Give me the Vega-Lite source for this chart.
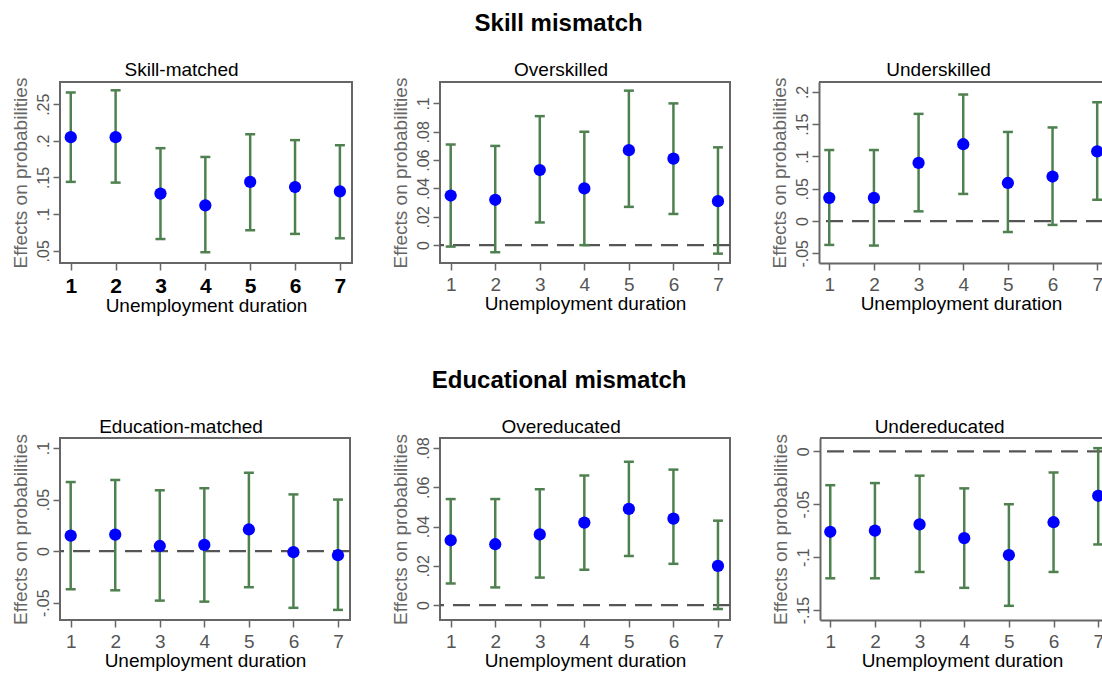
{
  "$schema": "https://vega.github.io/schema/vega-lite/v6.json",
  "padding": {"left": 10, "right": 0, "top": 12, "bottom": 0},
  "config": {
    "font": "Liberation Sans",
    "view": {"stroke": "#666", "strokeWidth": 2},
    "title": {"fontSize": 19, "fontWeight": "normal", "color": "#000", "anchor": "middle", "frame": "bounds", "offset": -3},
    "axis": {"grid": false, "domain": false, "tickColor": "#666", "tickWidth": 1.5, "tickSize": 7},
    "axisX": {"labelAngle": 0, "labelPadding": 5, "labelFontSize": 19, "labelColor": "#555", "titleFontSize": 19, "titleFontWeight": "normal", "titleColor": "#000", "titlePadding": 0},
    "axisY": {"labelAngle": -90, "labelAlign": "center", "labelBaseline": "bottom", "labelPadding": 2, "labelFontSize": 16, "labelColor": "#555", "titleFontSize": 19, "titleFontWeight": "normal", "titleColor": "#666", "titlePadding": 5}
  },
  "spacing": 52,
  "vconcat": [
    {
      "title": {"text": "Skill mismatch", "fontSize": 24, "fontWeight": "bold", "offset": 24, "anchor": "middle", "frame": "bounds"},
      "spacing": 37,
      "hconcat": [
        {
          "width": 292, "height": 181,
          "title": "Skill-matched",
          "data": {"values": [
            {"dur": 1, "est": 0.205, "lo": 0.144, "hi": 0.266},
            {"dur": 2, "est": 0.205, "lo": 0.143, "hi": 0.269},
            {"dur": 3, "est": 0.128, "lo": 0.066, "hi": 0.190},
            {"dur": 4, "est": 0.112, "lo": 0.048, "hi": 0.178},
            {"dur": 5, "est": 0.144, "lo": 0.078, "hi": 0.209},
            {"dur": 6, "est": 0.137, "lo": 0.073, "hi": 0.201},
            {"dur": 7, "est": 0.131, "lo": 0.067, "hi": 0.194}
          ]},
          "encoding": {
            "y": {"field": "est", "type": "quantitative", "title": "Effects on probabilities", "scale": {"domain": [0.0333, 0.2803], "nice": false, "zero": false}, "axis": {"values": [0.05, 0.1, 0.15, 0.2, 0.25], "labelExpr": "(datum.value < 0 ? '-' : '') + replace(format(abs(datum.value), '~g'), '0.', '.')"}}
          },
          "layer": [
            {"mark": {"type": "rule", "strokeWidth": 2.5, "color": "#4f804f"},
             "encoding": {"x": {"field": "dur", "type": "quantitative", "title": "Unemployment duration", "scale": {"domain": [0.76, 7.27], "nice": false, "zero": false}},
                          "y": {"field": "lo", "type": "quantitative", "title": "Effects on probabilities"}, "y2": {"field": "hi"}}},
            {"mark": {"type": "point", "shape": "M-1,0L1,0", "filled": false, "size": 100, "strokeWidth": 2.5, "color": "#4f804f", "opacity": 1},
             "encoding": {"x": {"field": "dur", "type": "quantitative", "title": "Unemployment duration", "scale": {"domain": [0.76, 7.27], "nice": false, "zero": false}},
                          "y": {"field": "lo", "type": "quantitative", "title": "Effects on probabilities"}}},
            {"mark": {"type": "point", "shape": "M-1,0L1,0", "filled": false, "size": 100, "strokeWidth": 2.5, "color": "#4f804f", "opacity": 1},
             "encoding": {"x": {"field": "dur", "type": "quantitative", "title": "Unemployment duration", "scale": {"domain": [0.76, 7.27], "nice": false, "zero": false}},
                          "y": {"field": "hi", "type": "quantitative", "title": "Effects on probabilities"}}},
            {"mark": {"type": "circle", "size": 150, "color": "#0000ff", "opacity": 1},
             "encoding": {"x": {"field": "dur", "type": "quantitative", "title": "Unemployment duration", "scale": {"domain": [0.76, 7.27], "nice": false, "zero": false}, "axis": {"values": [1,2,3,4,5,6,7], "format": "d", "labelFontWeight": "bold", "labelColor": "#000", "labelFontSize": 21}}}}
          ]
        },
        {
          "width": 290, "height": 181,
          "title": "Overskilled",
          "data": {"values": [
            {"dur": 1, "est": 0.035, "lo": -0.001, "hi": 0.071},
            {"dur": 2, "est": 0.032, "lo": -0.005, "hi": 0.070},
            {"dur": 3, "est": 0.053, "lo": 0.016, "hi": 0.091},
            {"dur": 4, "est": 0.040, "lo": 0.000, "hi": 0.080},
            {"dur": 5, "est": 0.067, "lo": 0.027, "hi": 0.109},
            {"dur": 6, "est": 0.061, "lo": 0.022, "hi": 0.100},
            {"dur": 7, "est": 0.031, "lo": -0.006, "hi": 0.069}
          ]},
          "encoding": {
            "y": {"field": "est", "type": "quantitative", "title": "Effects on probabilities", "scale": {"domain": [-0.0126, 0.1151], "nice": false, "zero": false}, "axis": {"values": [0, 0.02, 0.04, 0.06, 0.08, 0.1], "labelExpr": "(datum.value < 0 ? '-' : '') + replace(format(abs(datum.value), '~g'), '0.', '.')"}}
          },
          "layer": [
            {"transform": [{"filter": "datum.dur == 1"}], "mark": {"type": "rule", "strokeDash": [17, 9], "strokeWidth": 2.2, "color": "#555"},
             "encoding": {"y": {"datum": 0, "type": "quantitative", "title": "Effects on probabilities"}}},
            {"mark": {"type": "rule", "strokeWidth": 2.5, "color": "#4f804f"},
             "encoding": {"x": {"field": "dur", "type": "quantitative", "title": "Unemployment duration", "scale": {"domain": [0.76, 7.27], "nice": false, "zero": false}},
                          "y": {"field": "lo", "type": "quantitative", "title": "Effects on probabilities"}, "y2": {"field": "hi"}}},
            {"mark": {"type": "point", "shape": "M-1,0L1,0", "filled": false, "size": 100, "strokeWidth": 2.5, "color": "#4f804f", "opacity": 1},
             "encoding": {"x": {"field": "dur", "type": "quantitative", "title": "Unemployment duration", "scale": {"domain": [0.76, 7.27], "nice": false, "zero": false}},
                          "y": {"field": "lo", "type": "quantitative", "title": "Effects on probabilities"}}},
            {"mark": {"type": "point", "shape": "M-1,0L1,0", "filled": false, "size": 100, "strokeWidth": 2.5, "color": "#4f804f", "opacity": 1},
             "encoding": {"x": {"field": "dur", "type": "quantitative", "title": "Unemployment duration", "scale": {"domain": [0.76, 7.27], "nice": false, "zero": false}},
                          "y": {"field": "hi", "type": "quantitative", "title": "Effects on probabilities"}}},
            {"mark": {"type": "circle", "size": 150, "color": "#0000ff", "opacity": 1},
             "encoding": {"x": {"field": "dur", "type": "quantitative", "title": "Unemployment duration", "scale": {"domain": [0.76, 7.27], "nice": false, "zero": false}, "axis": {"values": [1,2,3,4,5,6,7], "format": "d"}}}}
          ]
        },
        {
          "width": 284, "height": 181,
          "title": "Underskilled",
          "view": {"stroke": null},
          "data": {"values": [
            {"dur": 1, "est": 0.036, "lo": -0.037, "hi": 0.110},
            {"dur": 2, "est": 0.036, "lo": -0.038, "hi": 0.110},
            {"dur": 3, "est": 0.090, "lo": 0.015, "hi": 0.166},
            {"dur": 4, "est": 0.119, "lo": 0.042, "hi": 0.196},
            {"dur": 5, "est": 0.059, "lo": -0.017, "hi": 0.138},
            {"dur": 6, "est": 0.069, "lo": -0.006, "hi": 0.145},
            {"dur": 7, "est": 0.108, "lo": 0.033, "hi": 0.184}
          ]},
          "encoding": {
            "y": {"field": "est", "type": "quantitative", "title": "Effects on probabilities", "scale": {"domain": [-0.065, 0.2154], "nice": false, "zero": false}, "axis": {"values": [-0.05, 0, 0.05, 0.1, 0.15, 0.2], "domain": true, "domainColor": "#666", "domainWidth": 2, "labelExpr": "(datum.value < 0 ? '-' : '') + replace(format(abs(datum.value), '~g'), '0.', '.')"}}
          },
          "layer": [
            {"transform": [{"filter": "datum.dur == 1"}], "mark": {"type": "rule", "strokeWidth": 2, "color": "#666"},
             "encoding": {"y": {"datum": 0.2154, "type": "quantitative", "title": "Effects on probabilities"}}},
            {"transform": [{"filter": "datum.dur == 1"}], "mark": {"type": "rule", "strokeDash": [17, 9], "strokeWidth": 2.2, "color": "#555"},
             "encoding": {"y": {"datum": 0, "type": "quantitative", "title": "Effects on probabilities"}}},
            {"mark": {"type": "rule", "strokeWidth": 2.5, "color": "#4f804f"},
             "encoding": {"x": {"field": "dur", "type": "quantitative", "title": "Unemployment duration", "scale": {"domain": [0.77, 7.13], "nice": false, "zero": false}},
                          "y": {"field": "lo", "type": "quantitative", "title": "Effects on probabilities"}, "y2": {"field": "hi"}}},
            {"mark": {"type": "point", "shape": "M-1,0L1,0", "filled": false, "size": 100, "strokeWidth": 2.5, "color": "#4f804f", "opacity": 1},
             "encoding": {"x": {"field": "dur", "type": "quantitative", "title": "Unemployment duration", "scale": {"domain": [0.77, 7.13], "nice": false, "zero": false}},
                          "y": {"field": "lo", "type": "quantitative", "title": "Effects on probabilities"}}},
            {"mark": {"type": "point", "shape": "M-1,0L1,0", "filled": false, "size": 100, "strokeWidth": 2.5, "color": "#4f804f", "opacity": 1},
             "encoding": {"x": {"field": "dur", "type": "quantitative", "title": "Unemployment duration", "scale": {"domain": [0.77, 7.13], "nice": false, "zero": false}},
                          "y": {"field": "hi", "type": "quantitative", "title": "Effects on probabilities"}}},
            {"mark": {"type": "circle", "size": 150, "color": "#0000ff", "opacity": 1, "clip": true},
             "encoding": {"x": {"field": "dur", "type": "quantitative", "title": "Unemployment duration", "scale": {"domain": [0.77, 7.13], "nice": false, "zero": false}, "axis": {"values": [1,2,3,4,5,6,7], "format": "d", "domain": true, "domainColor": "#666", "domainWidth": 2}}}}
          ]
        }
      ]
    },
    {
      "title": {"text": "Educational mismatch", "fontSize": 24, "fontWeight": "bold", "offset": 24, "anchor": "middle", "frame": "bounds"},
      "spacing": 37,
      "hconcat": [
        {
          "width": 290, "height": 182,
          "title": "Education-matched",
          "data": {"values": [
            {"dur": 1, "est": 0.015, "lo": -0.037, "hi": 0.067},
            {"dur": 2, "est": 0.016, "lo": -0.038, "hi": 0.069},
            {"dur": 3, "est": 0.005, "lo": -0.048, "hi": 0.059},
            {"dur": 4, "est": 0.006, "lo": -0.049, "hi": 0.061},
            {"dur": 5, "est": 0.021, "lo": -0.035, "hi": 0.076},
            {"dur": 6, "est": -0.001, "lo": -0.055, "hi": 0.055},
            {"dur": 7, "est": -0.004, "lo": -0.057, "hi": 0.050}
          ]},
          "encoding": {
            "y": {"field": "est", "type": "quantitative", "title": "Effects on probabilities", "scale": {"domain": [-0.0668, 0.1097], "nice": false, "zero": false}, "axis": {"values": [-0.05, 0, 0.05, 0.1], "labelExpr": "(datum.value < 0 ? '-' : '') + replace(format(abs(datum.value), '~g'), '0.', '.')"}}
          },
          "layer": [
            {"transform": [{"filter": "datum.dur == 1"}], "mark": {"type": "rule", "strokeDash": [17, 9], "strokeWidth": 2.2, "color": "#555"},
             "encoding": {"y": {"datum": 0, "type": "quantitative", "title": "Effects on probabilities"}}},
            {"mark": {"type": "rule", "strokeWidth": 2.5, "color": "#4f804f"},
             "encoding": {"x": {"field": "dur", "type": "quantitative", "title": "Unemployment duration", "scale": {"domain": [0.76, 7.27], "nice": false, "zero": false}},
                          "y": {"field": "lo", "type": "quantitative", "title": "Effects on probabilities"}, "y2": {"field": "hi"}}},
            {"mark": {"type": "point", "shape": "M-1,0L1,0", "filled": false, "size": 100, "strokeWidth": 2.5, "color": "#4f804f", "opacity": 1},
             "encoding": {"x": {"field": "dur", "type": "quantitative", "title": "Unemployment duration", "scale": {"domain": [0.76, 7.27], "nice": false, "zero": false}},
                          "y": {"field": "lo", "type": "quantitative", "title": "Effects on probabilities"}}},
            {"mark": {"type": "point", "shape": "M-1,0L1,0", "filled": false, "size": 100, "strokeWidth": 2.5, "color": "#4f804f", "opacity": 1},
             "encoding": {"x": {"field": "dur", "type": "quantitative", "title": "Unemployment duration", "scale": {"domain": [0.76, 7.27], "nice": false, "zero": false}},
                          "y": {"field": "hi", "type": "quantitative", "title": "Effects on probabilities"}}},
            {"mark": {"type": "circle", "size": 150, "color": "#0000ff", "opacity": 1},
             "encoding": {"x": {"field": "dur", "type": "quantitative", "title": "Unemployment duration", "scale": {"domain": [0.76, 7.27], "nice": false, "zero": false}, "axis": {"values": [1,2,3,4,5,6,7], "format": "d"}}}}
          ]
        },
        {
          "width": 290, "height": 182,
          "title": "Overeducated",
          "data": {"values": [
            {"dur": 1, "est": 0.033, "lo": 0.011, "hi": 0.054},
            {"dur": 2, "est": 0.031, "lo": 0.009, "hi": 0.054},
            {"dur": 3, "est": 0.036, "lo": 0.014, "hi": 0.059},
            {"dur": 4, "est": 0.042, "lo": 0.018, "hi": 0.066},
            {"dur": 5, "est": 0.049, "lo": 0.025, "hi": 0.073},
            {"dur": 6, "est": 0.044, "lo": 0.021, "hi": 0.069},
            {"dur": 7, "est": 0.020, "lo": -0.002, "hi": 0.043}
          ]},
          "encoding": {
            "y": {"field": "est", "type": "quantitative", "title": "Effects on probabilities", "scale": {"domain": [-0.0076, 0.0851], "nice": false, "zero": false}, "axis": {"values": [0, 0.02, 0.04, 0.06, 0.08], "labelExpr": "(datum.value < 0 ? '-' : '') + replace(format(abs(datum.value), '~g'), '0.', '.')"}}
          },
          "layer": [
            {"transform": [{"filter": "datum.dur == 1"}], "mark": {"type": "rule", "strokeDash": [17, 9], "strokeWidth": 2.2, "color": "#555"},
             "encoding": {"y": {"datum": 0, "type": "quantitative", "title": "Effects on probabilities"}}},
            {"mark": {"type": "rule", "strokeWidth": 2.5, "color": "#4f804f"},
             "encoding": {"x": {"field": "dur", "type": "quantitative", "title": "Unemployment duration", "scale": {"domain": [0.76, 7.27], "nice": false, "zero": false}},
                          "y": {"field": "lo", "type": "quantitative", "title": "Effects on probabilities"}, "y2": {"field": "hi"}}},
            {"mark": {"type": "point", "shape": "M-1,0L1,0", "filled": false, "size": 100, "strokeWidth": 2.5, "color": "#4f804f", "opacity": 1},
             "encoding": {"x": {"field": "dur", "type": "quantitative", "title": "Unemployment duration", "scale": {"domain": [0.76, 7.27], "nice": false, "zero": false}},
                          "y": {"field": "lo", "type": "quantitative", "title": "Effects on probabilities"}}},
            {"mark": {"type": "point", "shape": "M-1,0L1,0", "filled": false, "size": 100, "strokeWidth": 2.5, "color": "#4f804f", "opacity": 1},
             "encoding": {"x": {"field": "dur", "type": "quantitative", "title": "Unemployment duration", "scale": {"domain": [0.76, 7.27], "nice": false, "zero": false}},
                          "y": {"field": "hi", "type": "quantitative", "title": "Effects on probabilities"}}},
            {"mark": {"type": "circle", "size": 150, "color": "#0000ff", "opacity": 1},
             "encoding": {"x": {"field": "dur", "type": "quantitative", "title": "Unemployment duration", "scale": {"domain": [0.76, 7.27], "nice": false, "zero": false}, "axis": {"values": [1,2,3,4,5,6,7], "format": "d"}}}}
          ]
        },
        {
          "width": 284, "height": 182,
          "title": "Undereducated",
          "view": {"stroke": null},
          "data": {"values": [
            {"dur": 1, "est": -0.076, "lo": -0.120, "hi": -0.032},
            {"dur": 2, "est": -0.075, "lo": -0.120, "hi": -0.030},
            {"dur": 3, "est": -0.069, "lo": -0.114, "hi": -0.023},
            {"dur": 4, "est": -0.082, "lo": -0.129, "hi": -0.035},
            {"dur": 5, "est": -0.098, "lo": -0.146, "hi": -0.050},
            {"dur": 6, "est": -0.067, "lo": -0.114, "hi": -0.020},
            {"dur": 7, "est": -0.042, "lo": -0.088, "hi": 0.003}
          ]},
          "encoding": {
            "y": {"field": "est", "type": "quantitative", "title": "Effects on probabilities", "scale": {"domain": [-0.1594, 0.0126], "nice": false, "zero": false}, "axis": {"values": [-0.15, -0.1, -0.05, 0], "domain": true, "domainColor": "#666", "domainWidth": 2, "labelExpr": "(datum.value < 0 ? '-' : '') + replace(format(abs(datum.value), '~g'), '0.', '.')"}}
          },
          "layer": [
            {"transform": [{"filter": "datum.dur == 1"}], "mark": {"type": "rule", "strokeWidth": 2, "color": "#666"},
             "encoding": {"y": {"datum": 0.0126, "type": "quantitative", "title": "Effects on probabilities"}}},
            {"transform": [{"filter": "datum.dur == 1"}], "mark": {"type": "rule", "strokeDash": [17, 9], "strokeWidth": 2.2, "color": "#555"},
             "encoding": {"y": {"datum": 0, "type": "quantitative", "title": "Effects on probabilities"}}},
            {"mark": {"type": "rule", "strokeWidth": 2.5, "color": "#4f804f"},
             "encoding": {"x": {"field": "dur", "type": "quantitative", "title": "Unemployment duration", "scale": {"domain": [0.77, 7.13], "nice": false, "zero": false}},
                          "y": {"field": "lo", "type": "quantitative", "title": "Effects on probabilities"}, "y2": {"field": "hi"}}},
            {"mark": {"type": "point", "shape": "M-1,0L1,0", "filled": false, "size": 100, "strokeWidth": 2.5, "color": "#4f804f", "opacity": 1},
             "encoding": {"x": {"field": "dur", "type": "quantitative", "title": "Unemployment duration", "scale": {"domain": [0.77, 7.13], "nice": false, "zero": false}},
                          "y": {"field": "lo", "type": "quantitative", "title": "Effects on probabilities"}}},
            {"mark": {"type": "point", "shape": "M-1,0L1,0", "filled": false, "size": 100, "strokeWidth": 2.5, "color": "#4f804f", "opacity": 1},
             "encoding": {"x": {"field": "dur", "type": "quantitative", "title": "Unemployment duration", "scale": {"domain": [0.77, 7.13], "nice": false, "zero": false}},
                          "y": {"field": "hi", "type": "quantitative", "title": "Effects on probabilities"}}},
            {"mark": {"type": "circle", "size": 150, "color": "#0000ff", "opacity": 1, "clip": true},
             "encoding": {"x": {"field": "dur", "type": "quantitative", "title": "Unemployment duration", "scale": {"domain": [0.77, 7.13], "nice": false, "zero": false}, "axis": {"values": [1,2,3,4,5,6,7], "format": "d", "domain": true, "domainColor": "#666", "domainWidth": 2}}}}
          ]
        }
      ]
    }
  ]
}
